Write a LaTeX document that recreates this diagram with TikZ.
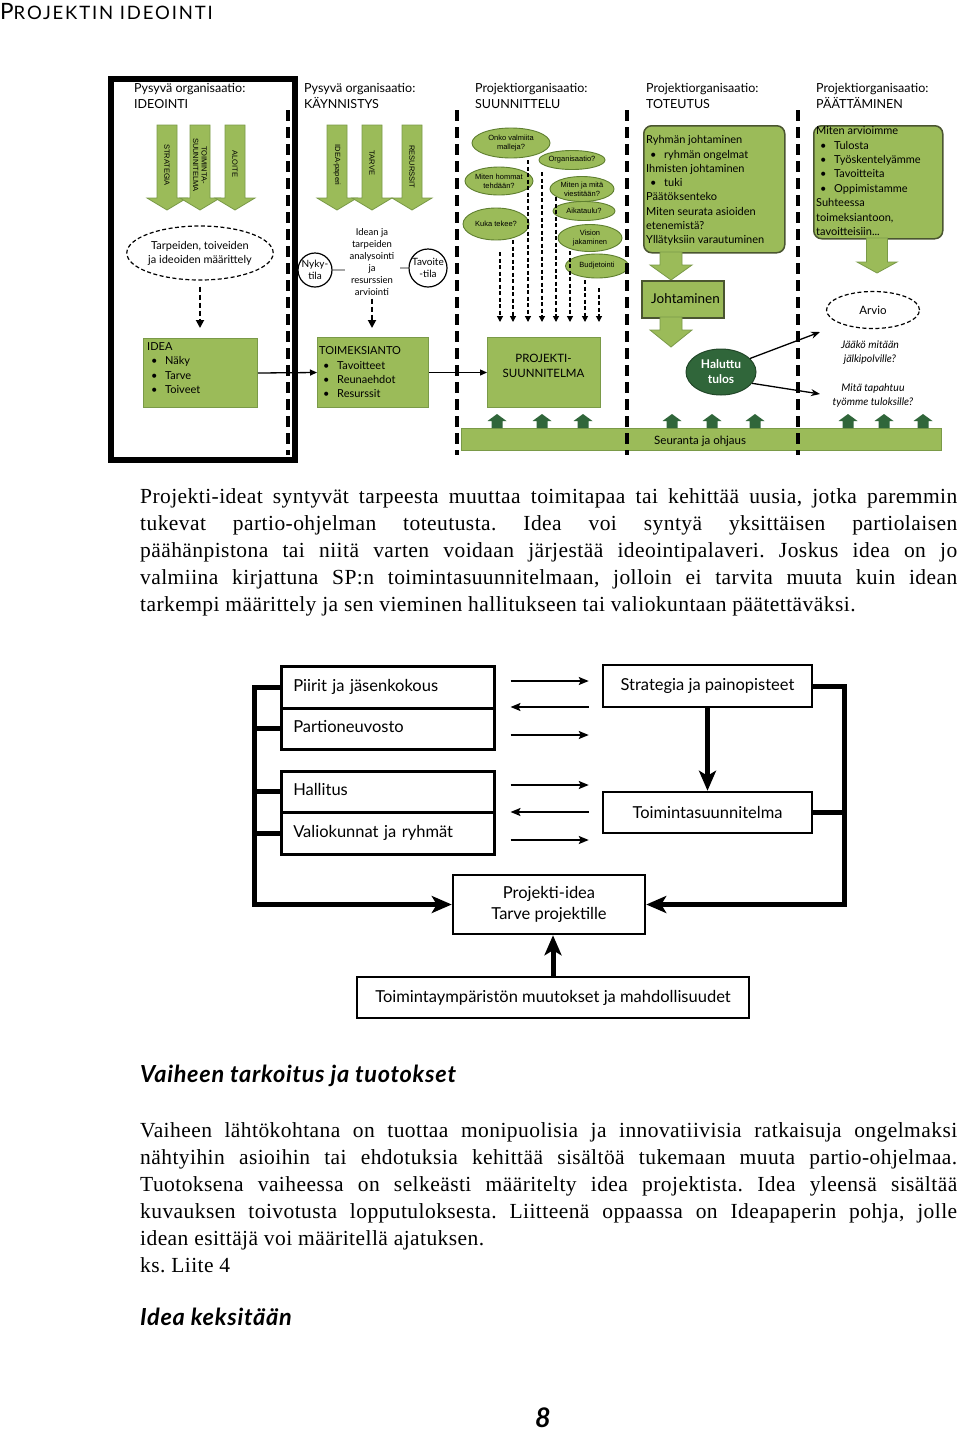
\documentclass[tikz,border=0pt]{standalone}
\usepackage{fontspec}
\setmainfont{Liberation Serif}
\newfontfamily\bodyf[LetterSpace=2.0]{Liberation Serif}
\newfontfamily\gill{Lato}
\newfontfamily\gillsp[LetterSpace=10.0]{Lato}
\newfontfamily\gillh[LetterSpace=3.0]{Lato}
\newfontfamily\arl{Liberation Sans}
\usetikzlibrary{arrows.meta,shapes.geometric,calc}
\definecolor{lgreen}{HTML}{9BBB59}
\definecolor{lgreenb}{HTML}{7A9A48}
\definecolor{egreenb}{HTML}{5F7F30}
\definecolor{dgreen}{HTML}{30663A}
\definecolor{rboxb}{HTML}{4A5530}
\newcommand{\myfz}[2]{\fontsize{#1}{#2}\selectfont}
\newcommand{\gdarrow}[6]{\draw[garrow] (#1-#5,#2) -- (#1+#5,#2) -- (#1+#5,#3) -- (#1+#6,#3) -- (#1,#4) -- (#1-#6,#3) -- (#1-#5,#3) -- cycle;}
\newcommand{\gup}[1]{\fill[dgreen] (#1-5.5,428) -- (#1-5.5,421) -- (#1-9.5,421) -- (#1,414) -- (#1+9.5,421) -- (#1+5.5,421) -- (#1+5.5,428) -- cycle;}
\newcommand{\bul}{\hspace*{4pt}\makebox[14pt][l]{\textbullet}}
\begin{document}
\begin{tikzpicture}[x=1pt,y=-1pt,
  ttl/.style={anchor=base west,inner sep=0pt,font=\gill\myfz{12.5}{14}},
  garrow/.style={fill=lgreen,draw=lgreenb,line width=0.8pt},
  alab/.style={rotate=-90,inner sep=0pt,align=center,font=\arl\myfz{7.5}{8.5}},
  sepline/.style={line width=4pt,dash pattern=on 11pt off 6pt},
  gbox/.style={rectangle,fill=lgreen,draw=lgreenb,line width=1pt,inner sep=0pt,anchor=north west},
  rbox/.style={rectangle,rounded corners=8pt,fill=lgreen,draw=rboxb,line width=1.5pt,inner sep=0pt,anchor=north west},
  btxt/.style={anchor=north west,inner sep=0pt,align=left,font=\gill\myfz{11}{14.4}},
  darr/.style={line width=1.8pt,dash pattern=on 5pt off 3pt,-{Triangle[length=8pt,width=8pt]}},
  sarr/.style={line width=1.2pt,dash pattern=on 4pt off 2.5pt,-{Triangle[length=6pt,width=6pt]}},
  sell/.style={ellipse,fill=lgreen,draw=egreenb,line width=0.9pt,inner sep=0pt,align=center,font=\arl\myfz{7.5}{9}},
  dell/.style={ellipse,draw,line width=1.2pt,dash pattern=on 4pt off 2.5pt,inner sep=0pt,align=center},
  tharr/.style={line width=1.3pt,-{Triangle[length=7pt,width=6pt]}},
  karr/.style={line width=1.3pt,-{Stealth[length=9pt,width=7pt]}},
  lbox/.style={draw,line width=2.5pt,rectangle,inner sep=0pt,font=\gill\myfz{16.5}{21}},
  lleft/.style={text width=189pt,inner xsep=12pt,align=left,text height=11.5pt,text depth=3.5pt},
  tarr/.style={line width=1.8pt,-{Stealth[length=10pt,width=8pt,inset=2pt]}},
  thk/.style={line width=5pt,line join=miter},
  thka/.style={line width=5pt,line join=miter,-{Stealth[length=20pt,width=17pt,inset=5pt]}},
  para/.style={anchor=north west,inner sep=0pt,align=left,font=\bodyf\frenchspacing\myfz{21.5}{27}}
]
\useasboundingbox (0,0) rectangle (960,1430);
\fill[white] (0,0) rectangle (960,1430);

% ---------- title
\node[anchor=base west,inner sep=0pt] (title) at (0,19) {\gillsp\myfz{22.5}{22}P\myfz{18.5}{17}ROJEKTIN IDEOINTI};

% ---------- seuranta bar (under separators)
\node[rectangle,fill=lgreen,draw=lgreenb,line width=1pt,anchor=north west,minimum width=480pt,minimum height=22pt,inner sep=0pt] (seur) at (461,428) {};
\node[anchor=base west,inner sep=0pt,font=\gill\myfz{11.5}{13}] (seurt) at (654,444) {Seuranta ja ohjaus};
\gup{497}\gup{542}\gup{583}
\gup{672}\gup{712}\gup{755}
\gup{848}\gup{884}\gup{923}

% ---------- frame
\draw[line width=6pt] (111,79) rectangle (295,460);

% ---------- column titles
\node[ttl] (c1a) at (134,92) {Pysyvä organisaatio:};
\node[ttl] (c1b) at (134,108) {IDEOINTI};
\node[ttl] (c2a) at (304,92) {Pysyvä organisaatio:};
\node[ttl] (c2b) at (304,108) {KÄYNNISTYS};
\node[ttl] (c3a) at (475,92) {Projektiorganisaatio:};
\node[ttl] (c3b) at (475,108) {SUUNNITTELU};
\node[ttl] (c4a) at (646,92) {Projektiorganisaatio:};
\node[ttl] (c4b) at (646,108) {TOTEUTUS};
\node[ttl] (c5a) at (816,92) {Projektiorganisaatio:};
\node[ttl] (c5b) at (816,108) {PÄÄTTÄMINEN};

% ---------- column 1
\gdarrow{167}{125}{198}{210}{10}{20}
\gdarrow{200}{125}{198}{210}{10}{20}
\gdarrow{235}{125}{198}{210}{10}{20}
\node[alab] (l1) at (167,165) {STRATEGIA};
\node[alab] (l2) at (200,165) {TOIMINTA-\\SUUNNITELMA};
\node[alab] (l3) at (235,164) {ALOITE};
\node[dell,minimum width=130pt,minimum height=54pt,font=\gill\myfz{11}{14}] (tarp) at (200,253) {Tarpeiden, toiveiden\\ja ideoiden määrittely};
\node[gbox,minimum width=114pt,minimum height=69pt] (idea) at (143,338) {};
\node[btxt] (ideat) at (147,340) {\strut IDEA\\\bul Näky\\\bul Tarve\\\bul Toiveet};
\draw[darr,shorten <=6pt,shorten >=10pt] (tarp.south) -- (tarp.south |- idea.north);

% ---------- column 2
\gdarrow{337}{125}{198}{210}{10}{20}
\gdarrow{372}{125}{198}{210}{10}{20}
\gdarrow{412}{125}{198}{210}{10}{20}
\node[alab] (l4) at (337,165) {IDEA-paperi};
\node[alab] (l5) at (372,163) {TARVE};
\node[alab] (l6) at (412,167) {RESURSSIT};
\node[inner sep=0pt,align=center,font=\gill\myfz{9.5}{12}] (anal) at (372,262) {Idean ja\\tarpeiden\\analysointi\\ja\\resurssien\\arviointi};
\node[circle,draw,line width=1.2pt,minimum size=34pt,inner sep=0pt,align=center,font=\gill\myfz{10}{11.5}] (nyky) at (315,270) {Nyky-\\tila};
\node[circle,draw,line width=1.2pt,minimum size=38pt,inner sep=0pt,align=center,font=\gill\myfz{10}{11.5}] (tavo) at (428,268) {Tavoite\\-tila};
\coordinate (g1) at (345,270);
\coordinate (g2) at (400,268);
\draw[black!35,line width=1.2pt] (nyky.east) -- (g1);
\draw[black!35,line width=1.2pt] (tavo.west) -- (g2);
\node[gbox,minimum width=111pt,minimum height=70pt] (toim) at (317,337) {};
\node[btxt] (toimt) at (319,344.5) {\strut TOIMEKSIANTO\\\bul Tavoitteet\\\bul Reunaehdot\\\bul Resurssit};
\draw[darr,shorten <=3pt,shorten >=9pt] (anal.south) -- (anal.south |- toim.north);
\draw[tharr] (idea.east) -- (toim.west);

% ---------- column 3
\node[sell,minimum width=78pt,minimum height=30pt] (e1) at (511,143) {Onko valmiita\\malleja?};
\node[sell,minimum width=60pt,minimum height=19pt] (e2) at (572,160) {Organisaatio?};
\node[sell,minimum width=68pt,minimum height=28pt] (e3) at (499,181) {Miten hommat\\tehdään?};
\node[sell,minimum width=64pt,minimum height=25pt] (e4) at (582,189) {Miten ja mitä\\viestitään?};
\node[sell,minimum width=62pt,minimum height=19pt] (e5) at (584,211) {Aikataulu?};
\node[sell,minimum width=66pt,minimum height=32pt] (e6) at (496,224) {Kuka tekee?};
\node[sell,minimum width=64pt,minimum height=27pt] (e7) at (590,238) {Vision\\jakaminen};
\node[sell,minimum width=63pt,minimum height=24pt] (e8) at (597,266) {Budjetointi};
\node[gbox,minimum width=113pt,minimum height=70pt] (ps) at (487,337) {};
\node[inner sep=0pt,align=center,font=\gill\myfz{11.5}{15}] (pst) at (543.5,366) {PROJEKTI-\\SUUNNITELMA};
\coordinate (d1) at (500,252);
\coordinate (d2) at (513,240);
\coordinate (d3) at (528,160);
\coordinate (d4) at (542,172);
\coordinate (d5) at (556,197);
\coordinate (d6) at (570,251);
\coordinate (d7) at (585,280);
\coordinate (d8) at (599,288);
\foreach \d in {d1,d2,d3,d4,d5,d6,d7,d8}
  \draw[sarr,shorten >=15pt] (\d) -- (\d |- ps.north);
\draw[tharr] (toim.east) -- (ps.west);

% ---------- column 4
\node[rbox,minimum width=141pt,minimum height=127pt] (tbox) at (643,125) {};
\node[btxt,font=\gill\myfz{11}{14.3}] (tboxt) at (646,133.5) {\strut Ryhmän johtaminen\\\bul ryhmän ongelmat\\Ihmisten johtaminen\\\bul tuki\\Päätöksenteko\\Miten seurata asioiden\\etenemistä?\\Yllätyksiin varautuminen};
\gdarrow{671}{252}{265}{280}{11}{21}
\node[rectangle,fill=lgreen,draw=rboxb,line width=1.5pt,anchor=north west,minimum width=82pt,minimum height=37pt,inner sep=0pt] (joht) at (641,280) {};
\node[anchor=west,inner sep=0pt,font=\gill\myfz{13.5}{15}] (jts) at (651,299) {Johtaminen};
\gdarrow{671}{317}{330}{347}{11}{21}
\node[ellipse,fill=dgreen,draw=dgreen!70!black,line width=1pt,minimum width=70pt,minimum height=46pt,inner sep=0pt,align=center,text=white,font=\gill\bfseries\myfz{12}{15}] (hal) at (721,372) {Haluttu\\tulos};
\coordinate (ar1) at (820,332);
\coordinate (ar2) at (820,394);
\draw[karr] (hal.25) -- (ar1);
\draw[karr] (hal.-20) -- (ar2);

% ---------- column 5
\node[rbox,minimum width=129pt,minimum height=113pt] (pbox) at (813,125) {};
\node[btxt,font=\gill\myfz{11}{14.4}] (pboxt) at (816,124.5) {\strut Miten arvioimme\\\bul Tulosta\\\bul Työskentelyämme\\\bul Tavoitteita\\\bul Oppimistamme\\Suhteessa\\toimeksiantoon,\\tavoitteisiin...};
\gdarrow{877}{238}{262}{273}{10.5}{20}
\node[dell,minimum width=93pt,minimum height=37pt,font=\gill\myfz{11.5}{13}] (arvio) at (873,310) {Arvio};
\node[inner sep=0pt,align=center,font=\gill\itshape\myfz{10.5}{14}] (jaako) at (870,353) {Jääkö mitään\\jälkipolville?};
\node[inner sep=0pt,align=center,font=\gill\itshape\myfz{10.5}{14}] (mita) at (873,396) {Mitä tapahtuu\\työmme tuloksille?};

% ---------- separators
\foreach \x in {288,457,627,798}
  \draw[sepline] (\x,110) -- (\x,455);

% ---------- body paragraph 1
\node[para] (p1) at (140,484) {\strut\makebox[817pt][s]{Projekti-ideat syntyvät tarpeesta muuttaa toimitapaa tai kehittää uusia, jotka paremmin}\\
\makebox[817pt][s]{tukevat partio-ohjelman toteutusta. Idea voi syntyä yksittäisen partiolaisen}\\
\makebox[817pt][s]{päähänpistona tai niitä varten voidaan järjestää ideointipalaveri. Joskus idea on jo}\\
\makebox[817pt][s]{valmiina kirjattuna SP:n toimintasuunnitelmaan, jolloin ei tarvita muuta kuin idean}\\
tarkempi määrittely ja sen vieminen hallitukseen tai valiokuntaan päätettäväksi.};

% ---------- lower diagram
\node[lbox,lleft,minimum height=42pt,anchor=north west] (piirit) at (280,665) {Piirit ja jäsenkokous};
\node[lbox,lleft,minimum height=41pt,anchor=north west] (partio) at (280,707) {Partioneuvosto};
\node[lbox,lleft,minimum height=41pt,anchor=north west] (hall) at (280,770) {Hallitus};
\node[lbox,lleft,minimum height=42pt,anchor=north west] (valio) at (280,811) {Valiokunnat ja ryhmät};
\node[lbox,minimum width=209pt,minimum height=42pt] (strat) at (707.5,686) {Strategia ja painopisteet};
\node[lbox,minimum width=209pt,minimum height=41pt] (tsuun) at (707.5,812.5) {Toimintasuunnitelma};
\node[lbox,minimum width=192pt,minimum height=59pt,align=center] (pidea) at (549,904.5) {Projekti-idea\\Tarve projektille};
\node[lbox,minimum width=392pt,minimum height=41pt] (tymp) at (553,997.5) {Toimintaympäristön muutokset ja mahdollisuudet};

\draw[tarr] ([xshift=15pt]piirit.east |- 0,681) -- ([xshift=-13pt]strat.west |- 0,681);
\draw[tarr] ([xshift=-13pt]strat.west |- 0,707) -- ([xshift=15pt]piirit.east |- 0,707);
\draw[tarr] ([xshift=15pt]piirit.east |- 0,735) -- ([xshift=-13pt]strat.west |- 0,735);
\draw[tarr] ([xshift=15pt]hall.east |- 0,785) -- ([xshift=-13pt]tsuun.west |- 0,785);
\draw[tarr] ([xshift=-13pt]tsuun.west |- 0,812) -- ([xshift=15pt]hall.east |- 0,812);
\draw[tarr] ([xshift=15pt]hall.east |- 0,840) -- ([xshift=-13pt]tsuun.west |- 0,840);

\draw[thka] (piirit.west) -- ++(-26,0) |- (pidea.west);
\draw[thk] (partio.west) -- ++(-26,0);
\draw[thk] (hall.west) -- ++(-26,0);
\draw[thk] (valio.west) -- ++(-26,0);
\draw[thka] (strat.east) -- ++(31,0) |- (pidea.east);
\draw[thk] (tsuun.east) -- ++(31,0);
\draw[thka] (strat.south) -- (tsuun.north);
\draw[thka] (tymp.north) -- (tymp.north |- pidea.south);

% ---------- headings and paragraph 2
\node[anchor=base west,inner sep=0pt,font=\gillh\bfseries\itshape\myfz{23.5}{26}] (h1) at (140,1082) {Vaiheen tarkoitus ja tuotokset};
\node[para] (p2) at (140,1118) {\strut\makebox[817pt][s]{Vaiheen lähtökohtana on tuottaa monipuolisia ja innovatiivisia ratkaisuja ongelmaksi}\\
\makebox[817pt][s]{nähtyihin asioihin tai ehdotuksia kehittää sisältöä tukemaan muuta partio-ohjelmaa.}\\
\makebox[817pt][s]{Tuotoksena vaiheessa on selkeästi määritelty idea projektista. Idea yleensä sisältää}\\
\makebox[817pt][s]{kuvauksen toivotusta lopputuloksesta. Liitteenä oppaassa on Ideapaperin pohja, jolle}\\
idean esittäjä voi määritellä ajatuksen.\\
ks. Liite 4};
\node[anchor=base west,inner sep=0pt,font=\gillh\bfseries\itshape\myfz{23.5}{26}] (h2) at (140,1325) {Idea keksitään};
\node[anchor=base,inner sep=0pt,font=\gill\bfseries\itshape\myfz{27}{30}] (pg) at (543,1427) {8};
\end{tikzpicture}
\end{document}
